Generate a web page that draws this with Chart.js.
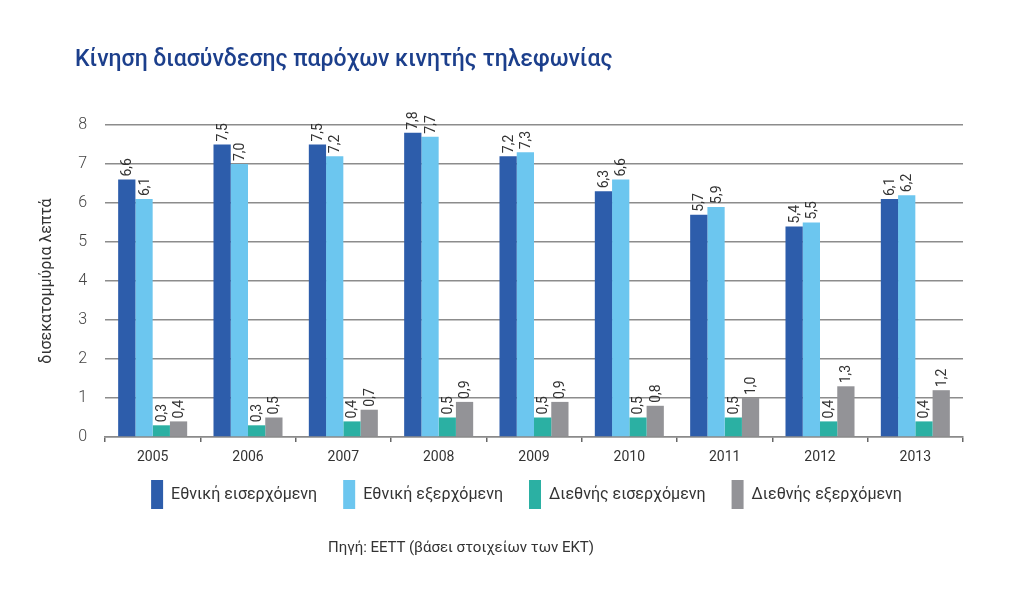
<!DOCTYPE html>
<html>
<head>
<meta charset="utf-8">
<script src="https://cdn.jsdelivr.net/npm/chart.js@4/dist/chart.umd.min.js"></script>
<style>
  body { margin: 0; background: #fff; }
  #page { position: relative; width: 1024px; height: 595px; overflow: hidden; font-family: Roboto, "Open Sans", sans-serif; }
  #title { position: absolute; left: 75px; top: 45px; font-size: 23px; font-weight: 500; color: #1c3f8c; white-space: nowrap; }
  #source { position: absolute; left: 0; width: 922px; top: 538px; text-align: center; font-size: 15px; color: #333; }
  #chart { position: absolute; left: 0; top: 0; }
</style>
</head>
<body>
<div id="page">
  <canvas id="chart" width="1024" height="595"></canvas>
  <div id="title">Κίνηση διασύνδεσης παρόχων κινητής τηλεφωνίας</div>
  <div id="source">Πηγή: ΕΕΤΤ (βάσει στοιχείων των ΕΚΤ)</div>
</div>
<script>
// Data
const years = ['2005', '2006', '2007', '2008', '2009', '2010', '2011', '2012', '2013'];
const nationalIn = [6.6, 7.5, 7.5, 7.8, 7.2, 6.3, 5.7, 5.4, 6.1];
const nationalOut = [6.1, 7.0, 7.2, 7.7, 7.3, 6.6, 5.9, 5.5, 6.2];
const intlIn = [0.3, 0.3, 0.4, 0.5, 0.5, 0.5, 0.5, 0.4, 0.4];
const intlOut = [0.4, 0.5, 0.7, 0.9, 0.9, 0.8, 1.0, 1.3, 1.2];
const seriesNames = ['Εθνική εισερχόμενη', 'Εθνική εξερχόμενη', 'Διεθνής εισερχόμενη', 'Διεθνής εξερχόμενη'];
const yTicks = [0, 1, 2, 3, 4, 5, 6, 7, 8];

const colors = ['#2d5dab', '#6cc6ef', '#2bb0a3', '#939397'];

// Rotated value labels above each bar
const valueLabels = {
    id: 'valueLabels',
    afterDatasetsDraw(chart) {
        const ctx = chart.ctx;
        ctx.save();
        ctx.fillStyle = '#333';
        ctx.font = '14px "Liberation Sans Narrow", "Arial Narrow", Roboto, sans-serif';
        ctx.textAlign = 'left';
        ctx.textBaseline = 'middle';
        chart.data.datasets.forEach((ds, i) => {
            const meta = chart.getDatasetMeta(i);
            meta.data.forEach((bar, j) => {
                const txt = ds.data[j].toFixed(1).replace('.', ',');
                ctx.save();
                ctx.translate(bar.x + 1, bar.y - 3);
                ctx.rotate(-Math.PI / 2);
                ctx.fillText(txt, 0, 0);
                ctx.restore();
            });
        });
        ctx.restore();
    }
};

// Move the legend up under the axis and centre it like the original
const legendPlace = {
    id: 'legendPlace',
    afterLayout(chart) {
        const lg = chart.legend;
        if (!lg) return;
        const dx = 526.5 - (lg.left + lg.right) / 2;
        lg.left += dx;
        lg.right += dx;
        lg.top -= 13;
        lg.bottom -= 13;
    }
};

const ctx = document.getElementById('chart').getContext('2d');
new Chart(ctx, {
    type: 'bar',
    data: {
        labels: years,
        datasets: [nationalIn, nationalOut, intlIn, intlOut].map((d, i) => ({
            label: seriesNames[i],
            data: d,
            backgroundColor: colors[i],
            borderWidth: 0,
            barPercentage: 1,
            categoryPercentage: 0.724
        }))
    },
    options: {
        responsive: false,
        animation: false,
        layout: { padding: { left: 30, right: 61, top: 125, bottom: 63 } },
        plugins: {
            legend: {
                position: 'bottom',
                align: 'center',
                labels: {
                    boxWidth: 12,
                    boxHeight: 29,
                    padding: 26,
                    color: '#333',
                    font: { family: 'Roboto', size: 16 }
                }
            },
            tooltip: { enabled: false }
        },
        scales: {
            x: {
                grid: {
                    offset: true,
                    drawOnChartArea: false,
                    drawTicks: true,
                    tickLength: 5,
                    color: '#666',
                    lineWidth: 1.5
                },
                border: { display: true, color: '#8a8a8a', width: 1.5 },
                ticks: { color: '#333', padding: 7, font: { family: 'Roboto', size: 14 } },
                afterFit(scale) { scale.height = 30; }
            },
            y: {
                min: 0,
                max: 8,
                afterBuildTicks(scale) { scale.ticks = yTicks.map(v => ({ value: v })); },
                grid: { color: '#8c8c8c', lineWidth: 1.5, drawTicks: false },
                border: { display: false },
                ticks: { color: '#444', padding: 18, font: { family: 'Roboto', size: 16, weight: '300' } },
                title: {
                    display: true,
                    text: 'δισεκατομμύρια λεπτά',
                    color: '#333',
                    font: { family: 'Roboto', size: 16 },
                    padding: { top: 7, bottom: 0 }
                },
                afterFit(scale) { scale.width = 75; }
            }
        }
    },
    plugins: [valueLabels, legendPlace]
});
</script>
</body>
</html>
